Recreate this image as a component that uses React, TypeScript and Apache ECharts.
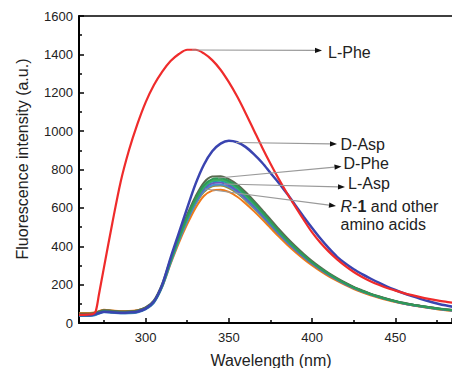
import React, { useEffect, useRef } from 'react';
import * as echarts from 'echarts';

// Wavelength grid (nm)
const wavelengths = [260, 265, 268, 270, 272,
  275, 280, 285, 290, 295, 300, 305, 310, 315, 320,
  325, 330, 335, 340, 345, 350, 355, 360, 365, 370,
  375, 380, 385, 390, 395, 400, 405, 410, 415, 420,
  425, 430, 435, 440, 445, 450, 455, 460, 465, 470,
  475, 480, 485];

const lPhe = [42, 44, 46, 60, 150,
  290, 520, 735, 900, 1035, 1150, 1240, 1310, 1365, 1402,
  1424, 1424, 1405, 1370, 1320, 1255, 1180, 1095, 1005, 915,
  830, 750, 675, 605, 537, 472, 418, 372, 332, 297,
  266, 240, 218, 199, 182, 169, 156, 145, 135, 126,
  118, 111, 105];
const dAsp = [40, 40, 42, 46, 52,
  58, 56, 54, 55, 59, 75, 112, 200, 340, 470,
  600, 725, 825, 895, 935, 950, 942, 918, 880, 835,
  782, 730, 673, 613, 553, 495, 440, 390, 345, 310,
  280, 255, 232, 210, 190, 172, 155, 140, 126, 113,
  102, 92, 84];
const dPhe = [48, 48, 50, 53, 60,
  67, 63, 60, 61, 65, 81, 118, 205, 335, 455,
  566, 660, 732, 763, 765, 750, 722, 683, 638, 590,
  540, 490, 443, 400, 360, 323, 290, 260, 234, 210,
  188, 170, 153, 139, 126, 115, 105, 97, 90, 83,
  77, 72, 68];
const lAsp = [40, 40, 42, 46, 53,
  59, 56, 53, 54, 58, 74, 110, 195, 320, 438,
  543, 632, 698, 728, 732, 718, 690, 652, 609, 563,
  515, 467, 423, 382, 345, 310, 279, 251, 226, 203,
  182, 165, 149, 135, 123, 112, 102, 94, 87, 80,
  74, 69, 65];
const r1 = [52, 52, 53, 56, 62,
  69, 65, 62, 62, 66, 80, 112, 190, 308, 418,
  515, 600, 662, 690, 695, 683, 658, 623, 583, 540,
  495, 450, 408, 369, 333, 300, 270, 243, 219, 197,
  177, 160, 145, 132, 120, 109, 100, 92, 85, 78,
  72, 67, 63];
const otherOlive = [50, 50, 51, 54, 60,
  68, 64, 60, 61, 65, 80, 114, 196, 318, 432,
  533, 620, 683, 712, 716, 703, 676, 639, 598, 554,
  508, 462, 419, 379, 342, 308, 277, 249, 224, 201,
  181, 163, 148, 134, 122, 111, 101, 93, 86, 79,
  73, 68, 64];
const otherBlue = [36, 36, 38, 42, 49,
  56, 53, 50, 51, 55, 71, 105, 188, 312, 428,
  533, 622, 688, 718, 722, 709, 682, 644, 602, 557,
  511, 465, 421, 381, 344, 310, 279, 251, 226, 203,
  182, 165, 149, 135, 123, 112, 102, 94, 87, 80,
  74, 69, 65];
const otherTeal = [38, 38, 40, 44, 51,
  58, 55, 52, 53, 57, 73, 108, 192, 318, 437,
  545, 638, 706, 738, 742, 728, 700, 661, 618, 571,
  522, 474, 429, 388, 350, 315, 284, 255, 229, 206,
  185, 167, 151, 137, 125, 114, 104, 96, 89, 82,
  76, 71, 67];
const otherLightGreen = [44, 44, 46, 50, 57,
  63, 60, 56, 57, 61, 77, 112, 196, 322, 440,
  548, 640, 710, 742, 746, 733, 705, 666, 623, 576,
  526, 477, 432, 390, 352, 317, 285, 256, 230, 207,
  186, 168, 152, 138, 125, 114, 104, 96, 89, 82,
  76, 71, 67];
const otherGreen = [42, 42, 44, 48, 55,
  62, 58, 55, 56, 60, 76, 112, 198, 325, 445,
  555, 648, 718, 750, 754, 740, 712, 672, 628, 580,
  530, 480, 434, 392, 353, 317, 285, 256, 230, 206,
  185, 167, 151, 137, 124, 113, 103, 95, 88, 81,
  75, 70, 66];

const seriesDefs = [
  { name: 'R-1', values: r1, color: '#f07a1a', width: 2 },
  { name: 'Other olive', values: otherOlive, color: '#a08a30', width: 2 },
  { name: 'Other blue', values: otherBlue, color: '#4a90d0', width: 2 },
  { name: 'L-Asp', values: lAsp, color: '#6a58c0', width: 2 },
  { name: 'Other teal', values: otherTeal, color: '#20a0a0', width: 2 },
  { name: 'Other light green', values: otherLightGreen, color: '#40b060', width: 2 },
  { name: 'D-Phe', values: dPhe, color: '#5a6a50', width: 2 },
  { name: 'Other green', values: otherGreen, color: '#2e9a58', width: 2 },
  { name: 'D-Asp', values: dAsp, color: '#3a44b0', width: 2.5 },
  { name: 'L-Phe', values: lPhe, color: '#ef2b2b', width: 2.2 },
];

const FONT = '"Liberation Sans", Arial, sans-serif';

function arrow(x1: number, y1: number, x2: number, y2: number) {
  const ang = Math.atan2(y2 - y1, x2 - x1);
  const len = 7;
  const hw = 2.6;
  const bx = x2 - len * Math.cos(ang);
  const by = y2 - len * Math.sin(ang);
  const px = -Math.sin(ang) * hw;
  const py = Math.cos(ang) * hw;
  return [
    { type: 'line', silent: true, shape: { x1, y1, x2: bx, y2: by }, style: { stroke: '#9a9a9a', lineWidth: 1.2 }, z: 100 },
    { type: 'polygon', silent: true, shape: { points: [[x2, y2], [bx + px, by + py], [bx - px, by - py]] }, style: { fill: '#111' }, z: 100 },
  ];
}

function label(text: string, x: number, y: number) {
  return {
    type: 'text', x, y, z: 100, silent: true,
    style: { text, fontSize: 16, fontFamily: FONT, fill: '#222', align: 'left', verticalAlign: 'middle' },
  };
}

export default function App() {
  const ref = useRef<HTMLDivElement>(null);
  useEffect(() => {
    if (!ref.current) return;
    const chart = echarts.init(ref.current, undefined, { renderer: 'svg' });
    const option: any = {
      animation: false,
      backgroundColor: '#fff',
      grid: { left: 79, top: 16, right: 0, bottom: 45, containLabel: false },
      xAxis: [
        {
          type: 'value', min: 260, max: 484, position: 'bottom',
          axisLine: { show: true, lineStyle: { color: '#000', width: 2 } },
          axisTick: { show: true, inside: true, length: 5, lineStyle: { color: '#000', width: 1.5 } },
          minorTick: { show: true, splitNumber: 2, length: 3, lineStyle: { color: '#000', width: 1.5 } },
          axisLabel: { showMinLabel: false, showMaxLabel: false, margin: 8, fontSize: 13, fontFamily: FONT, color: '#222', formatter: (v: number) => String(v) },
          splitLine: { show: false },
        },
        {
          type: 'value', min: 260, max: 484, position: 'top',
          axisLine: { show: true, lineStyle: { color: '#000', width: 1.5 } },
          axisTick: { show: false }, axisLabel: { show: false }, splitLine: { show: false },
        },
      ],
      yAxis: {
        type: 'value', min: 0, max: 1600, interval: 200,
        axisLine: { show: true, lineStyle: { color: '#000', width: 2 } },
        axisTick: { show: true, inside: true, length: 5, lineStyle: { color: '#000', width: 1.5 } },
        minorTick: { show: true, splitNumber: 2, length: 3, lineStyle: { color: '#000', width: 1.5 } },
        axisLabel: { margin: 6, fontSize: 13, fontFamily: FONT, color: '#222', formatter: (v: number) => String(v) },
        splitLine: { show: false },
      },
      series: seriesDefs.map((s) => ({
        name: s.name,
        type: 'line',
        xAxisIndex: 0,
        showSymbol: false,
        smooth: 0.3,
        data: wavelengths.map((w, i) => [w, s.values[i]]),
        lineStyle: { color: s.color, width: s.width },
        itemStyle: { color: s.color },
      })),
      graphic: [
        {
          type: 'text', x: 22, y: 159, rotation: Math.PI / 2, silent: true,
          style: { text: 'Fluorescence intensity (a.u.)', fontSize: 16, fontFamily: FONT, fill: '#222', align: 'center', verticalAlign: 'middle' },
        },
        {
          type: 'text', x: 271, y: 360, silent: true,
          style: { text: 'Wavelength (nm)', fontSize: 16, fontFamily: FONT, fill: '#222', align: 'center', verticalAlign: 'middle' },
        },
        ...arrow(192, 50, 322, 50.5),
        label('L-Phe', 328, 52.5),
        ...arrow(236, 142.5, 337, 144),
        label('D-Asp', 340.5, 144),
        ...arrow(218, 178, 341.5, 166.5),
        label('D-Phe', 343.5, 163.5),
        ...arrow(224, 184, 345, 187),
        label('L-Asp', 348, 183),
        ...arrow(205, 189, 336, 206),
        {
          type: 'text', x: 340.5, y: 206, z: 100, silent: true,
          style: {
            text: '{i|R}-{b|1} and other',
            fontSize: 16, fontFamily: FONT, fill: '#222', align: 'left', verticalAlign: 'middle',
            rich: {
              i: { fontStyle: 'italic', fontSize: 16, fontFamily: FONT, fill: '#222' },
              b: { fontWeight: 'bold', fontSize: 16, fontFamily: FONT, fill: '#222' },
            },
          },
        },
        label('amino acids', 340.5, 224),
      ],
    };
    chart.setOption(option);
    return () => chart.dispose();
  }, []);
  return <div ref={ref} style={{ position: 'fixed', left: 0, top: 0, width: 452, height: 368 }} />;
}
